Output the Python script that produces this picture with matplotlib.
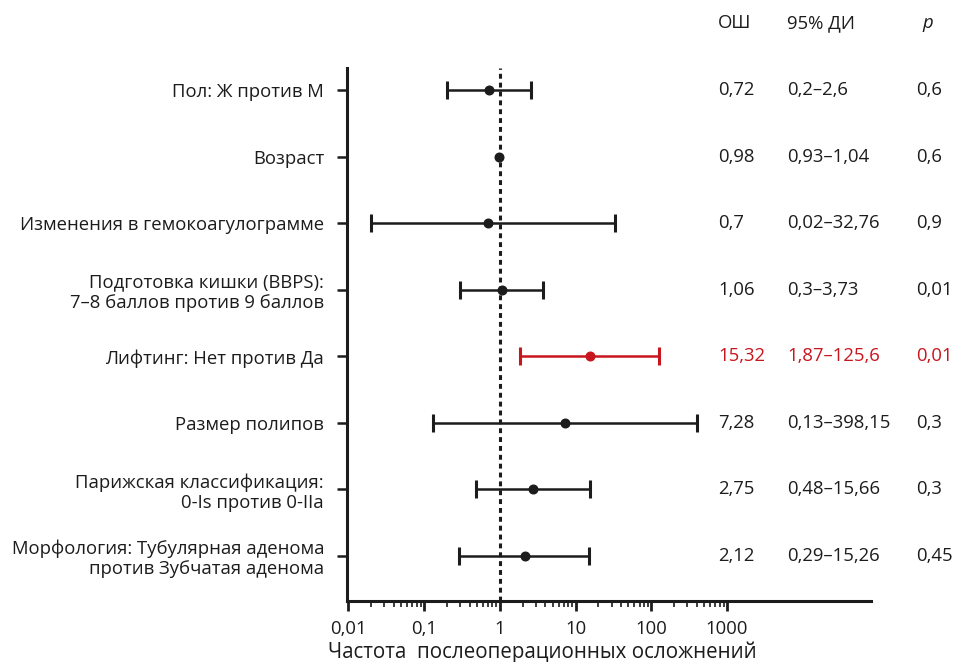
import matplotlib
matplotlib.use("Agg")
import matplotlib.pyplot as plt
import matplotlib.transforms as mtransforms
from matplotlib.ticker import FixedLocator, NullFormatter
import numpy as np

plt.rcParams['font.family'] = ['Open Sans', 'DejaVu Sans']

labels = [
    "Пол: Ж против М",
    "Возраст",
    "Изменения в гемокоагулограмме",
    "Подготовка кишки (BBPS):\n7–8 баллов против 9 баллов",
    "Лифтинг: Нет против Да",
    "Размер полипов",
    "Парижская классификация:\n0-Is против 0-IIa",
    "Морфология: Тубулярная аденома\nпротив Зубчатая аденома",
]
odds = [0.72, 0.98, 0.7, 1.06, 15.32, 7.28, 2.75, 2.12]
ci_low = [0.2, 0.93, 0.02, 0.3, 1.87, 0.13, 0.48, 0.29]
ci_high = [2.6, 1.04, 32.76, 3.73, 125.6, 398.15, 15.66, 15.26]
or_text = ["0,72", "0,98", "0,7", "1,06", "15,32", "7,28", "2,75", "2,12"]
ci_text = ["0,2–2,6", "0,93–1,04", "0,02–32,76", "0,3–3,73", "1,87–125,6",
           "0,13–398,15", "0,48–15,66", "0,29–15,26"]
p_text = ["0,6", "0,6", "0,9", "0,01", "0,01", "0,3", "0,3", "0,45"]
highlight = [False, False, False, False, True, False, False, False]

xticks = [0.01, 0.1, 1, 10, 100, 1000]
xtick_labels = ["0,01", "0,1", "1", "10", "100", "1000"]

dark = "#1c1c1c"
red = "#c8161e"
fs = 13.3

fig = plt.figure(figsize=(9.57, 6.62), dpi=100)
ax = fig.add_axes([347 / 957, 1 - 601 / 662, (871 - 347) / 957, (601 - 68) / 662])
ax.set_xscale("log")
ax.set_xlim(0.0096, 79600)
ax.set_ylim(7.676, -0.33)

ax.axvline(1, color=dark, lw=2.2, linestyle=(0, (1.6, 1.3)), zorder=1)

ypos = np.arange(len(labels))
for y, o, lo, hi, hl in zip(ypos, odds, ci_low, ci_high, highlight):
    c = red if hl else dark
    # intervals narrower than the marker itself get no caps
    cap = 0 if np.log10(hi / lo) < 0.1 else 6.5
    ax.errorbar([o], [y], xerr=[[o - lo], [hi - o]], fmt="o", color=c,
                ecolor=c, elinewidth=1.8, capsize=cap, capthick=2.2,
                markersize=6.2, zorder=3)

for side in ("top", "right"):
    ax.spines[side].set_visible(False)
for side in ("left", "bottom"):
    ax.spines[side].set_linewidth(2.2)
    ax.spines[side].set_color(dark)

ax.set_yticks(ypos)
ax.set_yticklabels(labels, fontsize=fs, color=dark, multialignment="right",
                   linespacing=1.15)
ax.tick_params(axis="y", length=7, width=1.8, color=dark, pad=9.5)

ax.xaxis.set_major_locator(FixedLocator(xticks))
ax.set_xticklabels(xtick_labels, fontsize=fs, color=dark)
minor = [m * d for d in xticks[:-1] for m in range(2, 10)]
ax.xaxis.set_minor_locator(FixedLocator(minor))
ax.xaxis.set_minor_formatter(NullFormatter())
ax.tick_params(axis="x", which="major", length=7, width=2, color=dark, pad=6.5)
ax.tick_params(axis="x", which="minor", length=4, width=1.2, color=dark)

fig.text(542 / 957, 1 - 652 / 662, "Частота  послеоперационных осложнений",
         fontsize=14.8, color=dark, ha="center", va="center")

# table columns at the right
trans = mtransforms.blended_transform_factory(fig.transFigure, ax.transData)
col_or, col_ci, col_p = 718 / 957, 787 / 957, 916 / 957
hy = 1 - 23 / 662
fig.text(col_or, hy, "ОШ", fontsize=fs, color=dark, va="center")
fig.text(col_ci, hy, "95% ДИ", fontsize=fs, color=dark, va="center")
fig.text(928 / 957, hy, "p", fontsize=fs, color=dark, va="center",
         ha="center", style="italic")
for y, a, b, c, hl in zip(ypos, or_text, ci_text, p_text, highlight):
    col = red if hl else dark
    ax.text(col_or, y, a, transform=trans, fontsize=fs, color=col, va="center")
    ax.text(col_ci, y, b, transform=trans, fontsize=fs, color=col, va="center")
    ax.text(col_p, y, c, transform=trans, fontsize=fs, color=col, va="center")

fig.savefig("out.png", dpi=100)
